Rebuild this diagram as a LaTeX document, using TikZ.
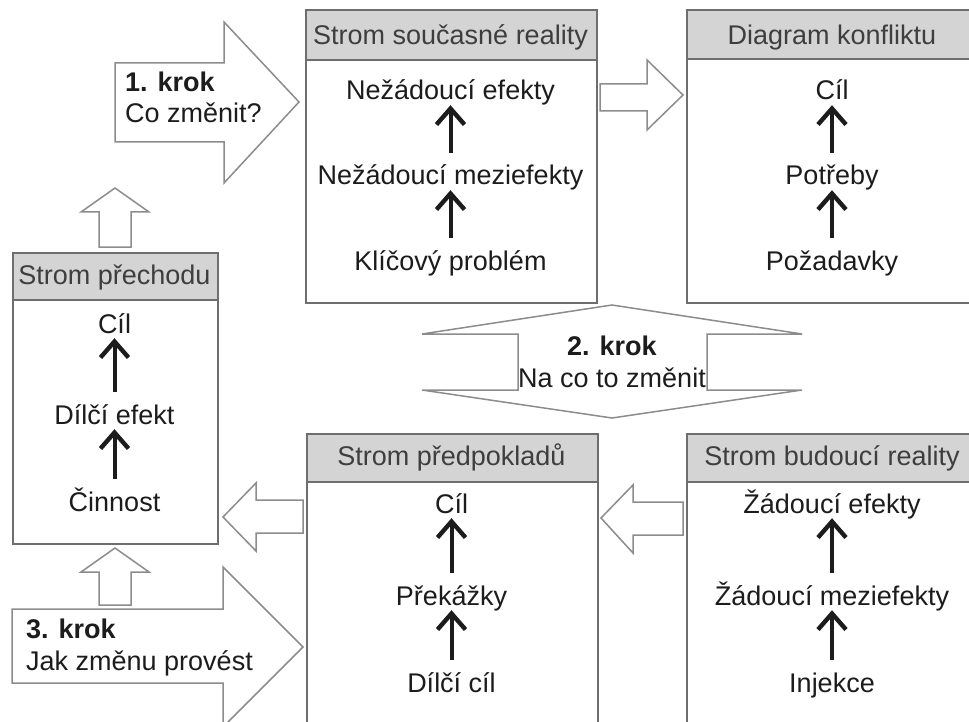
\documentclass[tikz,border=0pt]{standalone}
\usepackage{fontspec}
\setmainfont{Liberation Sans}
\usetikzlibrary{arrows.meta}
\definecolor{boxgray}{HTML}{6E6E6E}
\definecolor{shapegray}{HTML}{8C8C8C}
\definecolor{headfill}{HTML}{D4D4D4}
\definecolor{ink}{HTML}{1C1C1C}
\newcommand\tocfont{\fontsize{27}{32}\selectfont}
\begin{document}
\begin{tikzpicture}[x=1pt,y=-1pt,
  frame/.style={draw=boxgray, line width=1.6pt, fill=white, inner sep=0pt, anchor=north west},
  headbar/.style={draw=boxgray, line width=1.6pt, fill=headfill, inner sep=0pt, anchor=north west},
  title/.style={anchor=base, inner sep=0pt, font=\tocfont, text=ink!85},
  item/.style={anchor=base, inner sep=0pt, text height=19pt, text depth=0pt, font=\tocfont, text=ink},
  steptext/.style={inner sep=0pt, font=\tocfont, text=ink},
  up/.style={-{Straight Barb[length=16pt, width=28pt, line width=4.4pt]}, line width=4pt, draw=ink},
  hollow/.style={draw=shapegray, line width=1.5pt, fill=white, line join=miter}]

\useasboundingbox (0,0) rectangle (969,722);
\clip (0,0) rectangle (969,722);

% ---- hollow block arrows between the trees ----
% 1. krok
\draw[hollow] (115,63) -- (224,63) -- (224,22) -- (299,102) -- (224,183)
  -- (224,142) -- (115,142) -- cycle;
% current reality -> conflict diagram
\draw[hollow] (600,84) -- (647,84) -- (647,60) -- (683,95) -- (647,130)
  -- (647,111) -- (600,111) -- cycle;
% transition tree -> back to step 1
\draw[hollow] (99,247) -- (99,212) -- (81,212) -- (115,188) -- (149,212)
  -- (131,212) -- (131,247) -- cycle;
% step 3 -> transition tree
\draw[hollow] (99,605) -- (99,572) -- (81,572) -- (115,548) -- (149,572)
  -- (131,572) -- (131,605) -- cycle;
% prerequisite tree -> transition tree
\draw[hollow] (303,500) -- (256,500) -- (256,483) -- (223,517) -- (256,551)
  -- (256,533) -- (303,533) -- cycle;
% future reality -> prerequisite tree
\draw[hollow] (683,502) -- (633,502) -- (633,485) -- (601,518) -- (633,553)
  -- (633,535) -- (683,535) -- cycle;
% 3. krok
\draw[hollow] (12,609) -- (223,609) -- (223,567) -- (303,647) -- (223,727)
  -- (223,683) -- (12,683) -- cycle;
% 2. krok (double-headed)
\draw[hollow] (422,334) -- (612,305) -- (802,334) -- (707,334) -- (707,390)
  -- (802,390) -- (612,418) -- (422,390) -- (518,390) -- (518,334) -- cycle;

% ---- step labels ----
\node[steptext, anchor=base west] (k1a) at (125,92) {\textbf{1. krok}};
\node[steptext, anchor=base west] (k1b) at (125,123) {Co změnit?};
\node[steptext, anchor=base] (k2a) at (612,355) {\textbf{2. krok}};
\node[steptext, anchor=base] (k2b) at (612,387) {Na co to změnit};
\node[steptext, anchor=base west] (k3a) at (26,638) {\textbf{3. krok}};
\node[steptext, anchor=base west] (k3b) at (26,670) {Jak změnu provést};

% an upward causal arrow from the item below to the item above
\newcommand\causal[2]{\draw[up] ([yshift=13pt]#1.north) -- ([yshift=-5pt]#2.south);}

% ---- Strom současné reality ----
\node[frame, minimum width=291pt, minimum height=293pt] (srBox) at (305,9) {};
\node[headbar, minimum width=291pt, minimum height=50pt] (srHead) at (305,9) {};
\node[title] (srTitle) at (450.5,45) {Strom současné reality};
\node[item] (sr1) at (450.5,100) {Nežádoucí efekty};
\node[item] (sr2) at (450.5,185) {Nežádoucí meziefekty};
\node[item] (sr3) at (450.5,270) {Klíčový problém};
\causal{sr2}{sr1}
\causal{sr3}{sr2}

% ---- Diagram konfliktu ----
\node[frame, minimum width=292pt, minimum height=293pt] (dkBox) at (686,9) {};
\node[headbar, minimum width=292pt, minimum height=49pt] (dkHead) at (686,9) {};
\node[title] (dkTitle) at (832,45) {Diagram konfliktu};
\node[item] (dk1) at (832,100) {Cíl};
\node[item] (dk2) at (832,185) {Potřeby};
\node[item] (dk3) at (832,270) {Požadavky};
\causal{dk2}{dk1}
\causal{dk3}{dk2}

% ---- Strom přechodu ----
\node[frame, minimum width=205pt, minimum height=291pt] (spBox) at (12,252) {};
\node[headbar, minimum width=205pt, minimum height=47pt] (spHead) at (12,252) {};
\node[title] (spTitle) at (114.5,284) {Strom přechodu};
\node[item] (sp1) at (114.5,333) {Cíl};
\node[item] (sp2) at (114.5,424) {Dílčí efekt};
\node[item] (sp3) at (114.5,511) {Činnost};
\causal{sp2}{sp1}
\causal{sp3}{sp2}

% ---- Strom předpokladů ----
\node[frame, minimum width=291pt, minimum height=320pt] (pdBox) at (306,433) {};
\node[headbar, minimum width=291pt, minimum height=48pt] (pdHead) at (306,433) {};
\node[title] (pdTitle) at (451.5,465) {Strom předpokladů};
\node[item] (pd1) at (451.5,513) {Cíl};
\node[item] (pd2) at (451.5,605) {Překážky};
\node[item] (pd3) at (451.5,692) {Dílčí cíl};
\causal{pd2}{pd1}
\causal{pd3}{pd2}

% ---- Strom budoucí reality ----
\node[frame, minimum width=292pt, minimum height=320pt] (brBox) at (686,433) {};
\node[headbar, minimum width=292pt, minimum height=48pt] (brHead) at (686,433) {};
\node[title] (brTitle) at (832,465) {Strom budoucí reality};
\node[item] (br1) at (832,513) {Žádoucí efekty};
\node[item] (br2) at (832,605) {Žádoucí meziefekty};
\node[item] (br3) at (832,692) {Injekce};
\causal{br2}{br1}
\causal{br3}{br2}
\end{tikzpicture}
\end{document}
